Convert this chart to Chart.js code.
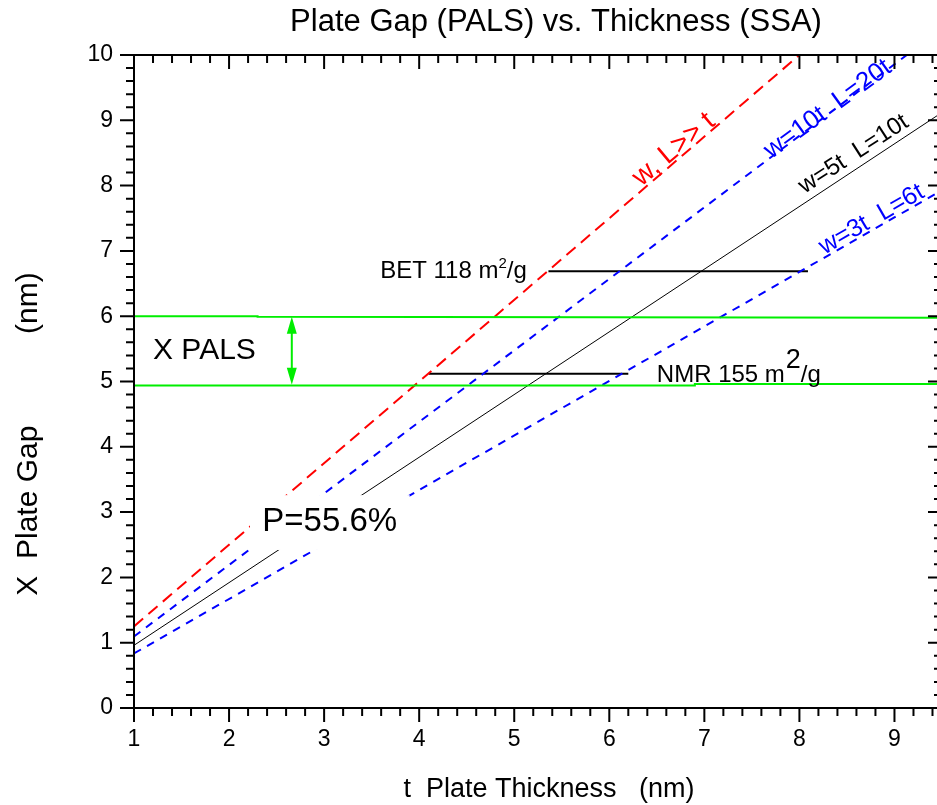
<!DOCTYPE html>
<html>
<head>
<meta charset="utf-8">
<script src="https://cdn.jsdelivr.net/npm/chart.js@4.4.1/dist/chart.umd.min.js"></script>
<style>
  html, body { margin: 0; padding: 0; background: #fff; overflow: hidden; width: 937px; height: 805px; }
  canvas { display: block; }
</style>
</head>
<body>
<canvas id="chart" width="946" height="805"></canvas>
<script>
// Plate thickness t (nm) at the two ends of each model line
const tInfinite = [1, 8.0];
const gapInfinite = [1.25, 10.0];          // w, L >> t
const tW10 = [1, 9.13];
const gapW10 = [1.095, 10.0];              // w=10t  L=20t
const tW5 = [1, 9.5];
const gapW5 = [0.96, 9.12];                // w=5t  L=10t
const tW3 = [1, 9.5];
const gapW3 = [0.835, 7.93];               // w=3t  L=6t

// PALS gap band (nm)
const palsUpperT = [1, 2.3, 2.3, 9.5];
const palsUpperGap = [6.0, 6.0, 5.99, 5.975];
const palsLowerT = [1, 6.9, 6.9, 9.5];
const palsLowerGap = [4.94, 4.94, 4.96, 4.96];

// Specific surface area markers: thickness range and gap
const betT = [5.36, 8.09];
const betGap = [6.69, 6.69];
const nmrT = [4.1, 6.2];
const nmrGap = [5.12, 5.12];

// Axis tick values
const xTickValues = [1, 2, 3, 4, 5, 6, 7, 8, 9];
const yTickValues = [0, 1, 2, 3, 4, 5, 6, 7, 8, 9, 10];

const FONT = '"Liberation Sans", Arial, Helvetica, sans-serif';
const RED = '#ff0000', BLUE = '#0000ff', GREEN = '#00ee00';

const pts = (xs, ys) => xs.map((v, i) => ({ x: v, y: ys[i] }));

function lineSet(label, xs, ys, color, width, dash) {
  return {
    label, data: pts(xs, ys), showLine: true, borderColor: color, borderWidth: width,
    borderDash: dash || [], pointRadius: 0, fill: false, tension: 0
  };
}

// Rich text helper: draws a sequence of runs with their own size and baseline shift
function drawRuns(ctx, x, y, runs, color) {
  ctx.fillStyle = color;
  ctx.textBaseline = 'alphabetic';
  ctx.textAlign = 'left';
  let cx = x;
  for (const r of runs) {
    ctx.font = r.size + 'px ' + FONT;
    ctx.fillText(r.t, cx, y + (r.dy || 0));
    cx += ctx.measureText(r.t).width + (r.gap || 0);
  }
}

const annotations = {
  id: 'annotations',
  afterDatasetsDraw(chart) {
    const { ctx, scales: { x, y } } = chart;
    const X = v => x.getPixelForValue(v), Y = v => y.getPixelForValue(v);
    ctx.save();

    // white box behind the porosity label
    const bx0 = X(2.22), bx1 = X(3.9), by0 = Y(3.26), by1 = Y(2.42);
    ctx.fillStyle = '#fff';
    ctx.fillRect(bx0, by0, bx1 - bx0, by1 - by0);

    ctx.fillStyle = '#000';
    ctx.textBaseline = 'middle';
    ctx.textAlign = 'left';
    ctx.font = '33px ' + FONT;
    ctx.fillText('P=55.6%', X(2.35), Y(2.85));

    ctx.font = '30px ' + FONT;
    ctx.fillText('X PALS', X(1.2), Y(5.47));

    // double-headed arrow spanning the PALS band
    const ax = X(2.66), aTop = Y(5.99), aBot = Y(4.95);
    ctx.strokeStyle = GREEN;
    ctx.fillStyle = GREEN;
    ctx.lineWidth = 2;
    ctx.beginPath();
    ctx.moveTo(ax, aTop + 8); ctx.lineTo(ax, aBot - 8);
    ctx.stroke();
    ctx.beginPath();
    ctx.moveTo(ax, aTop); ctx.lineTo(ax - 5, aTop + 17); ctx.lineTo(ax + 5, aTop + 17); ctx.closePath();
    ctx.moveTo(ax, aBot); ctx.lineTo(ax - 5, aBot - 17); ctx.lineTo(ax + 5, aBot - 17); ctx.closePath();
    ctx.fill();

    drawRuns(ctx, X(3.59), Y(6.58), [
      { t: 'BET 118 m', size: 24 }, { t: '2', size: 15, dy: -10 }, { t: '/g', size: 24 }
    ], '#000');
    drawRuns(ctx, X(6.5), Y(5.0), [
      { t: 'NMR 155 m', size: 24, gap: 1 }, { t: '2', size: 27, dy: -14 }, { t: '/g', size: 24 }
    ], '#000');

    // rotated labels along the model lines
    const slanted = [
      { text: 'w, L>> t', x: 6.68, y: 8.55, angle: -40, color: RED, size: 28 },
      { text: 'w=10t  L=20t', x: 8.3, y: 9.17, angle: -36, color: BLUE, size: 26 },
      { text: 'w=5t  L=10t', x: 8.57, y: 8.48, angle: -33, color: '#000', size: 24 },
      { text: 'w=3t  L=6t', x: 8.76, y: 7.48, angle: -30, color: BLUE, size: 25 }
    ];
    for (const s of slanted) {
      ctx.save();
      ctx.translate(X(s.x), Y(s.y));
      ctx.rotate(s.angle * Math.PI / 180);
      ctx.fillStyle = s.color;
      ctx.font = s.size + 'px ' + FONT;
      ctx.textAlign = 'center';
      ctx.textBaseline = 'middle';
      ctx.fillText(s.text, 0, 0);
      ctx.restore();
    }
    ctx.restore();
  }
};

// Box frame with major/minor ticks on all four sides, plus titles
const frame = {
  id: 'frame',
  afterDraw(chart) {
    const { ctx, chartArea: a, scales: { x, y } } = chart;
    ctx.save();
    ctx.strokeStyle = '#000';
    ctx.lineWidth = 2;
    ctx.strokeRect(a.left, a.top, a.right - a.left, a.bottom - a.top);
    ctx.beginPath();
    for (let i = Math.ceil(x.min * 5 - 1e-6); i <= Math.floor(x.max * 5 + 1e-6); i++) {
      const px = x.getPixelForValue(i / 5);
      const len = i % 5 === 0 ? 14 : 8;
      ctx.moveTo(px, a.bottom); ctx.lineTo(px, a.bottom + len);
      ctx.moveTo(px, a.top); ctx.lineTo(px, a.top + len);
    }
    for (let i = Math.ceil(y.min * 5 - 1e-6); i <= Math.floor(y.max * 5 + 1e-6); i++) {
      const py = y.getPixelForValue(i / 5);
      const len = i % 5 === 0 ? 14 : 8;
      ctx.moveTo(a.left, py); ctx.lineTo(a.left - len, py);
      ctx.moveTo(a.right, py); ctx.lineTo(a.right - len, py);
    }
    ctx.stroke();

    ctx.fillStyle = '#000';
    ctx.textAlign = 'center';
    ctx.textBaseline = 'alphabetic';
    ctx.font = '31px ' + FONT;
    ctx.fillText('Plate Gap (PALS) vs. Thickness (SSA)', 556, 31);

    ctx.font = '27px ' + FONT;
    ctx.fillText('t  Plate Thickness   (nm)', 549, 797);

    ctx.save();
    ctx.translate(37, 434);
    ctx.rotate(-Math.PI / 2);
    ctx.font = '30px ' + FONT;
    ctx.fillText('X  Plate Gap           (nm)', 0, 0);
    ctx.restore();
    ctx.restore();
  }
};

new Chart(document.getElementById('chart'), {
  type: 'scatter',
  data: {
    datasets: [
      lineSet('PALS upper', palsUpperT, palsUpperGap, GREEN, 2),
      lineSet('PALS lower', palsLowerT, palsLowerGap, GREEN, 2),
      lineSet('w, L >> t', tInfinite, gapInfinite, RED, 2, [12, 7]),
      lineSet('w=10t L=20t', tW10, gapW10, BLUE, 2, [8, 7]),
      lineSet('w=5t L=10t', tW5, gapW5, '#000', 1),
      lineSet('w=3t L=6t', tW3, gapW3, BLUE, 2, [8, 7]),
      lineSet('BET 118', betT, betGap, '#000', 2),
      lineSet('NMR 155', nmrT, nmrGap, '#000', 2)
    ]
  },
  options: {
    responsive: false,
    animation: false,
    layout: { padding: { top: 55, right: 4, left: 0, bottom: 0 } },
    plugins: { legend: { display: false }, tooltip: { enabled: false }, title: { display: false } },
    scales: {
      x: {
        type: 'linear', min: 1, max: 9.5,
        grid: { display: false, drawTicks: false },
        border: { display: false },
        afterFit: s => { s.height = 97; },
        afterBuildTicks: s => { s.ticks = xTickValues.map(v => ({ value: v })); },
        ticks: { color: '#000', padding: 18, font: { family: FONT, size: 23 } }
      },
      y: {
        type: 'linear', min: 0, max: 10,
        grid: { display: false, drawTicks: false },
        border: { display: false },
        afterFit: s => { s.width = 134; },
        afterBuildTicks: s => { s.ticks = yTickValues.map(v => ({ value: v })); },
        ticks: { color: '#000', padding: 21, font: { family: FONT, size: 23 } }
      }
    }
  },
  plugins: [annotations, frame]
});
</script>
</body>
</html>
